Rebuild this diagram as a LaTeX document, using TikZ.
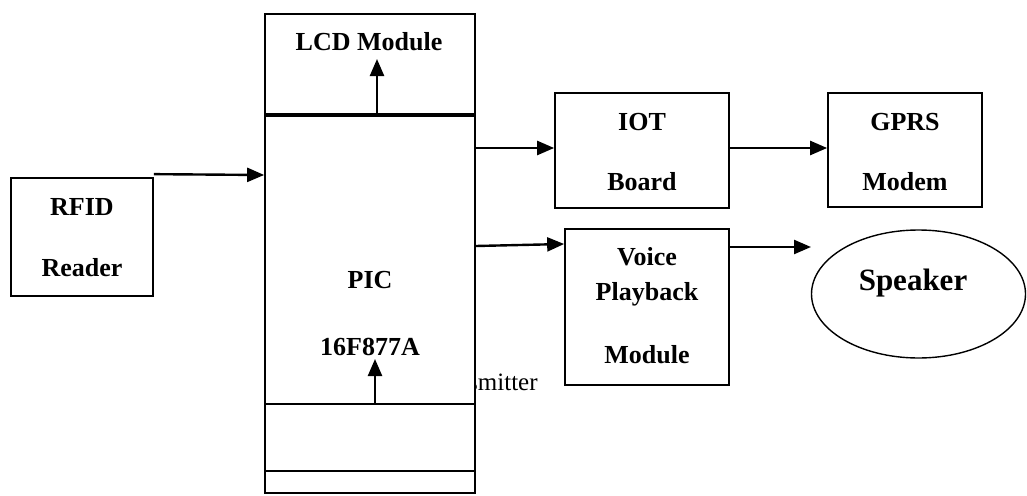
\documentclass[tikz,border=0pt]{standalone}
\usepackage{fontspec}
\setmainfont{Liberation Serif}
\usetikzlibrary{arrows.meta,shapes.geometric}

\tikzset{
  block/.style={draw,line width=1.7pt,fill=white,inner sep=0pt},
  lbl/.style={inner sep=0pt,text height=17.5pt,text depth=0pt,font=\fontsize{26}{30}\selectfont\bfseries},
  arr/.style={line width=2.4pt,-{Triangle[length=17pt,width=14pt]}}
}

\begin{document}
\begin{tikzpicture}[x=1pt,y=-1pt]
\useasboundingbox (0,0) rectangle (1027,495);
% text partly hidden behind the controller
\node[inner sep=0pt,anchor=west,font=\fontsize{25}{30}\selectfont] (tx) at (468,382) {smitter};
% controller with LCD on top
\node[block,minimum width=210pt,minimum height=479pt] (pic) at (370,253.5) {};
\draw[line width=3.5pt] (265,115) coordinate (lcdl) -- (475,115);
\draw[line width=1.7pt] (265,404) -- (475,404);
\draw[line width=1.7pt] (265,471) -- (475,471);
\path(369,42) node[lbl] (lcd) {LCD Module};
\path(370,280) node[lbl] (pict) {PIC};
\path(370,347) node[lbl] (picn) {16F877A};
\draw[arr] (377,115) -- (377,59);
\draw[arr] (375,404) -- (375,359);
% RFID reader
\node[block,minimum width=142pt,minimum height=118pt] (rfid) at (82,237) {};
\path(82,207) node[lbl] {RFID};
\path(82,268) node[lbl] {Reader};
\draw[arr] ([yshift=3pt]rfid.north east) -- (pic.west |- 0,175);
% IOT board and modem
\node[block,minimum width=174pt,minimum height=115pt] (iot) at (642,150.5) {};
\path(642,122) node[lbl] {IOT};
\path(642,182) node[lbl] {Board};
\node[block,minimum width=154pt,minimum height=114pt] (gprs) at (905,150) {};
\path(905,122) node[lbl] {GPRS};
\path(905,182) node[lbl] {Modem};
\draw[arr] (pic.east |- 0,148) -- (iot.west |- 0,148);
\draw[arr] (iot.east |- 0,148) -- (gprs.west |- 0,148);
% voice playback and speaker
\node[block,minimum width=164pt,minimum height=156pt] (voice) at (647,307) {};
\path(647,257) node[lbl] {Voice};
\path(647,292) node[lbl] {Playback};
\path(647,355) node[lbl] {Module};
\node[ellipse,draw,line width=1.4pt,minimum width=214pt,minimum height=128pt,inner sep=0pt] (spk) at (918.5,294) {};
\path(913,280) node[lbl,text height=21pt,font=\fontsize{31}{36}\selectfont\bfseries] {Speaker};
\draw[arr] (pic.east |- 0,246) -- (voice.west |- 0,244);
\draw[arr] (voice.east |- 0,247) -- (811,247);
\end{tikzpicture}
\end{document}
